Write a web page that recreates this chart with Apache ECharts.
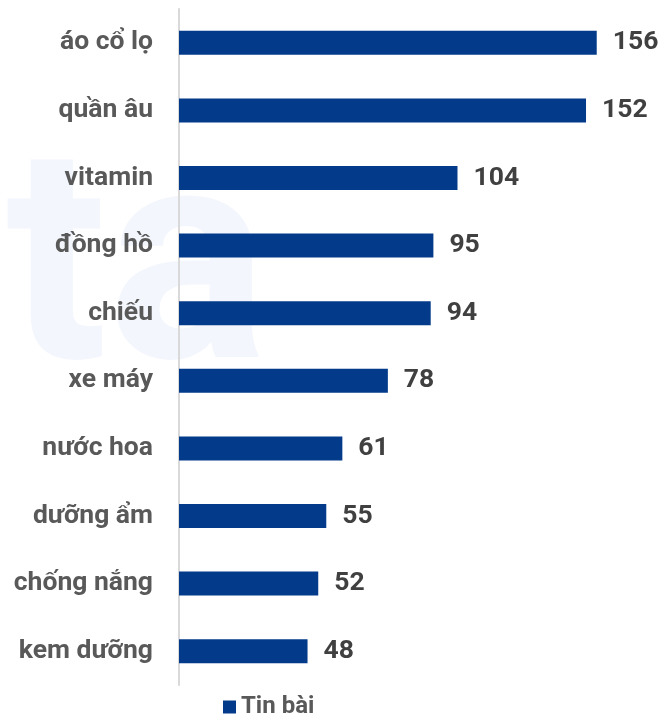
<!DOCTYPE html>
<html><head><meta charset="utf-8">
<style>html,body{margin:0;padding:0;background:#fff}#c{width:663px;height:717px}</style>
<script src="https://cdn.jsdelivr.net/npm/echarts@6/dist/echarts.min.js"></script>
</head><body><div id="c"></div>
<script>
const categories = ["áo cổ lọ","quần âu","vitamin","đồng hồ","chiếu","xe máy","nước hoa","dưỡng ẩm","chống nắng","kem dưỡng"];
const values = [156,152,104,95,94,78,61,55,52,48];
const seriesName = "Tin bài";
const chart = echarts.init(document.getElementById('c'));
chart.setOption({
  animation:false,
  textStyle:{fontFamily:'Roboto'},
  graphic:[{type:'text',left:6,top:132,z:-10,silent:true,
    style:{text:'ta',font:'bold 300px Roboto',fill:'#f3f6fc'}}],
  grid:{left:179,right:2,top:9,bottom:32},
  xAxis:{type:'value',min:0,max:180,show:false},
  yAxis:{type:'category',data:categories,inverse:true,
    axisLine:{show:true,lineStyle:{color:'#d9d9d9',width:2}},
    axisTick:{show:false},
    axisLabel:{margin:26,color:'#595959',fontSize:26.5,fontWeight:'bold',fontFamily:'Roboto'}},
  legend:{top:690,left:218,itemWidth:13,itemHeight:13,icon:'rect',itemGap:6,
    textStyle:{color:'#595959',fontSize:24,fontWeight:'bold',fontFamily:'Roboto'}},
  series:[{type:'bar',name:seriesName,data:values,barWidth:24,
    itemStyle:{color:'#033a8a'},
    label:{show:true,position:'right',distance:16,color:'#404040',fontSize:26.5,fontWeight:'bold',fontFamily:'Roboto'}}]
});
</script></body></html>
